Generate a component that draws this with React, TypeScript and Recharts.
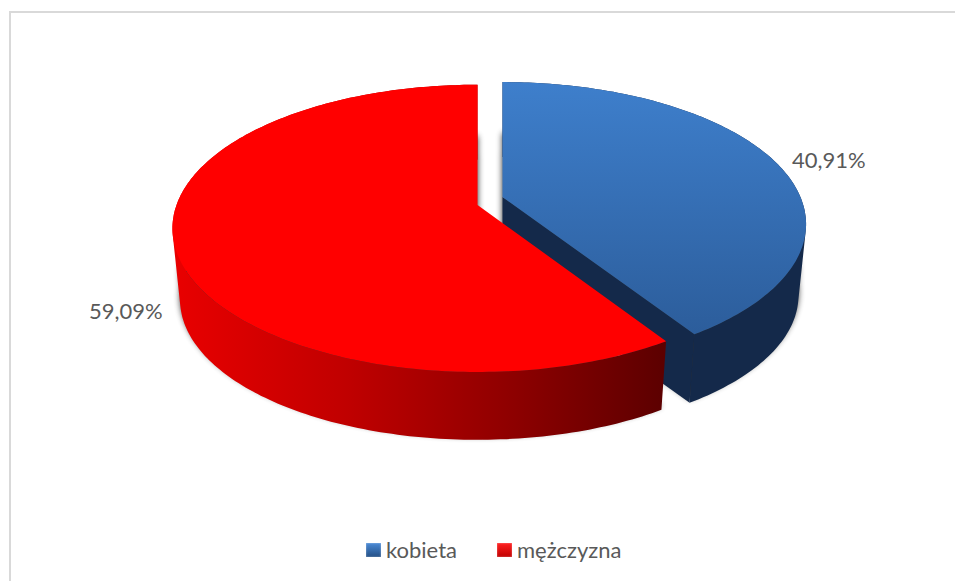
import { Legend, Pie, PieChart } from "recharts";

const categories = ["kobieta", "mężczyzna"];
const shares = [40.91, 59.09];

const tableData = categories.map((name, i) => ({ name, value: shares[i] }));

const topFill = ["url(#topBlue)", "#ff0000"];
const wallFill = ["#14294a", "url(#wallRed)"];
const cutFill = ["#14294a", "#600000"];
const swatches = [
  "linear-gradient(#4a8ad6, #234f85)",
  "linear-gradient(#ff2020, #c00000)",
];

// the pulled-out slices sit at slightly different depths, so each has its own view
const PERSPECTIVE = [0.191, 0.163];
const FLATTEN = [0.455, 0.4645];
const WIDTH_SCALE = [0.99, 1];
const DEPTH = 72;
const BASE_SCALE = 0.975;
const EXPLODE_X = 13;
const EXPLODE_Y = 14;

type Pt = { x: number; y: number };

const rad = (deg: number) => (deg * Math.PI) / 180;

// circle point -> perspective floor point, relative to the apex
function project(angle: number, r: number, index: number): Pt {
  const u = Math.cos(rad(angle));
  const v = -Math.sin(rad(angle));
  const s = 1 / (1 - PERSPECTIVE[index] * v);
  return { x: r * WIDTH_SCALE[index] * u * s, y: r * FLATTEN[index] * v * s };
}

function apexOf(cx: number, cy: number, midAngle: number): Pt {
  return {
    x: cx + EXPLODE_X * Math.cos(rad(midAngle)),
    y: cy - EXPLODE_Y * Math.sin(rad(midAngle)),
  };
}

function arcPoints(start: number, end: number, r: number, index: number) {
  const steps = Math.ceil(Math.abs(end - start));
  return Array.from({ length: steps + 1 }, (_, i) =>
    project(start + ((end - start) * i) / steps, r, index)
  );
}

const toPath = (pts: Pt[]) =>
  pts.map((p, i) => `${i ? "L" : "M"}${p.x.toFixed(1)} ${p.y.toFixed(1)}`).join(" ") + " Z";

// all quads wound the same way so the nonzero fill never cancels
function sweepPath(arc: Pt[], lower: (p: Pt) => Pt) {
  const parts: string[] = [];
  for (let i = 0; i < arc.length - 1; i++) {
    const quad = [arc[i], arc[i + 1], lower(arc[i + 1]), lower(arc[i])];
    let area = 0;
    quad.forEach((p, k) => {
      const q = quad[(k + 1) % 4];
      area += p.x * q.y - q.x * p.y;
    });
    parts.push(toPath(area < 0 ? [...quad].reverse() : quad));
  }
  return parts.join(" ");
}

function Slice3D(props: any) {
  const { cx, cy, outerRadius, startAngle, endAngle, index } = props;
  const mid = (startAngle + endAngle) / 2;
  const apex = apexOf(cx, cy, mid);
  const arc = arcPoints(startAngle, endAngle, outerRadius, index);
  const lower = (p: Pt, dy = DEPTH) => ({
    x: p.x * BASE_SCALE,
    y: p.y * BASE_SCALE + dy,
  });
  const origin = { x: 0, y: 0 };
  const top = [origin, ...arc];
  const last = arc[arc.length - 1];
  const cut = [origin, last, lower(last), lower(origin)];
  const shadowHigh = top.map((p) => lower(p, 48));
  const shadowLow = top.map((p) => lower(p, 68));

  return (
    <g transform={`translate(${apex.x} ${apex.y})`}>
      <defs>
        <linearGradient id="topBlue" x1="0" y1="0" x2="0" y2="1">
          <stop offset="0%" stopColor="#3e7fcc" />
          <stop offset="100%" stopColor="#2c5d9b" />
        </linearGradient>
        <linearGradient
          id="wallRed"
          gradientUnits="userSpaceOnUse"
          x1={-outerRadius}
          y1="0"
          x2={outerRadius * 0.62}
          y2="0"
        >
          <stop offset="0%" stopColor="#e80000" />
          <stop offset="35%" stopColor="#c00000" />
          <stop offset="70%" stopColor="#8c0000" />
          <stop offset="100%" stopColor="#5c0000" />
        </linearGradient>
        <filter id={`soft${index}`} x="-10%" y="-10%" width="120%" height="120%">
          <feGaussianBlur stdDeviation="3" />
        </filter>
      </defs>
      <g filter={`url(#soft${index})`} fill="#000" opacity={0.8}>
        <path d={toPath(shadowHigh)} />
        <path d={toPath(shadowLow)} />
      </g>
      <path d={toPath(cut)} fill={cutFill[index]} />
      <path d={sweepPath(arc, lower)} fill={wallFill[index]} />
      <path d={toPath(top)} fill={topFill[index]} />
    </g>
  );
}

function sliceLabel(props: any) {
  const { cx, cy, outerRadius, midAngle, value, index } = props;
  const apex = apexOf(cx, cy, midAngle);
  const p = project(midAngle, outerRadius, index);
  const front = Math.sin(rad(midAngle)) < 0;
  const right = Math.cos(rad(midAngle)) >= 0;
  return (
    <text
      x={apex.x + p.x + (right ? 55 : -49)}
      y={apex.y + p.y + (front ? 64 : -1)}
      textAnchor="middle"
      dominantBaseline="central"
      fontFamily="Lato"
      fontSize={22}
      fill="#595959"
    >
      {value.toFixed(2).replace(".", ",")}%
    </text>
  );
}

function LegendRow({ payload }: any) {
  return (
    <div style={{ display: "flex", fontFamily: "Lato", fontSize: 22, color: "#595959" }}>
      {(payload ?? []).map((item: any, i: number) => (
        <div key={item.value} style={{ display: "flex", alignItems: "center", marginRight: 40 }}>
          <span
            style={{
              width: 15,
              height: 14,
              marginRight: 5,
              background: swatches[i],
              boxShadow: "inset 0 0 2px rgba(255,255,255,0.55)",
              display: "inline-block",
            }}
          />
          {item.value}
        </div>
      ))}
    </div>
  );
}

export default function App() {
  return (
    <div style={{ position: "absolute", left: 0, top: 0, width: 955, height: 581, background: "#fff" }}>
      <div
        style={{
          position: "absolute",
          left: 9,
          top: 11,
          width: 946,
          height: 570,
          boxSizing: "border-box",
          borderTop: "2px solid #d9d9d9",
          borderLeft: "2px solid #d9d9d9",
        }}
      />
      <PieChart
        width={955}
        height={581}
        margin={{ top: 0, right: 0, bottom: 0, left: 0 }}
        style={{ position: "absolute", left: 0, top: 0 }}
      >
        <Pie
          data={tableData}
          dataKey="value"
          nameKey="name"
          cx={490}
          cy={201}
          outerRadius={301}
          startAngle={90}
          endAngle={-270}
          stroke="none"
          shape={Slice3D}
          label={sliceLabel}
          labelLine={false}
          isAnimationActive={false}
        />
        <Legend
          content={LegendRow}
          wrapperStyle={{ position: "absolute", left: 366, top: 536, width: 320, bottom: "auto" }}
        />
      </PieChart>
    </div>
  );
}
